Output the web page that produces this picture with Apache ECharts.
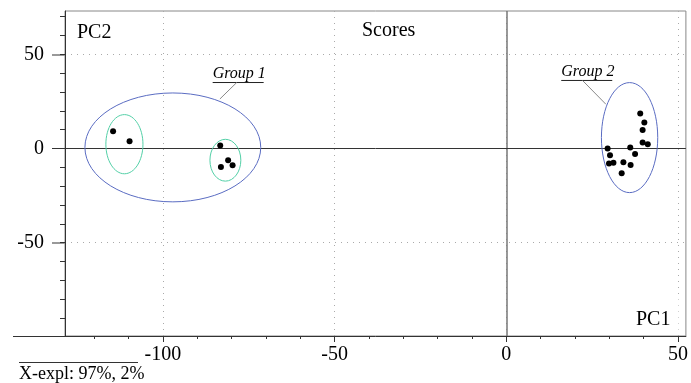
<!DOCTYPE html>
<html>
<head>
<meta charset="utf-8">
<script src="https://cdn.jsdelivr.net/npm/echarts@6/dist/echarts.min.js"></script>
<style>
  html, body { margin: 0; padding: 0; background: #fff; }
  #chart { width: 691px; height: 383px; }
</style>
</head>
<body>
<div id="chart"></div>
<script>
// PCA score plot, PC1 vs PC2
const group1X = [-114.5, -109.7, -83.3, -81.0, -79.7, -83.1];
const group1Y = [9.2, 3.9, 1.6, -6.2, -8.9, -9.8];
const group2X = [39.0, 40.2, 39.7, 39.7, 41.2, 29.5, 30.2, 29.9, 31.2, 36.1, 37.5, 34.1, 36.2, 33.6];
const group2Y = [18.6, 13.8, 9.9, 3.2, 2.3, 0.0, -3.6, -8.0, -7.6, 0.5, -2.9, -7.3, -8.7, -13.1];

// Group ellipses: centre and semi-axes in score units
const ellipseKind = ['outer', 'inner', 'inner', 'outer'];
const ellipseCx = [-97.1, -111.2, -81.8, 35.9];
const ellipseCy = [0.6, 2.3, -6.2, 5.8];
const ellipseRx = [25.6, 5.4, 4.5, 8.2];
const ellipseRy = [28.9, 15.7, 11.1, 29.2];

// Axis ticks
const xMajorTicks = [-100, -50, 0, 50];
const xMinorTicks = [-120, -110, -100, -90, -80, -70, -60, -50, -40, -30, -20, -10, 0, 10, 20, 30, 40, 50];
const yMajorTicks = [-50, 0, 50];
const yMinorTicks = [-90, -80, -70, -60, -50, -40, -30, -20, -10, 0, 10, 20, 30, 40, 50, 60, 70];

// Group captions
const groupNames = ['Group 1', 'Group 2'];

// caption placement (score units): underline start, leader start, leader end
const captionLayout = [
  { at: [-85.5, 35.3], from: [-78.5, 35.3], to: [-83.4, 26.3] },
  { at: [16.0, 36.4], from: [22.2, 36.4], to: [29.0, 23.5] }
];

const SERIF = '"Liberation Serif", "Times New Roman", serif';
const X_MIN = -128.5, X_MAX = 52.3, Y_MIN = -99.5, Y_MAX = 73;

const chart = echarts.init(document.getElementById('chart'), null, { renderer: 'canvas' });

const ellipseData = ellipseCx.map((cx, i) => [cx, ellipseCy[i], ellipseRx[i], ellipseRy[i], ellipseKind[i] === 'outer' ? 1 : 0]);
const captionData = groupNames.map((name, i) => [
  captionLayout[i].at[0], captionLayout[i].at[1],
  captionLayout[i].from[0], captionLayout[i].from[1],
  captionLayout[i].to[0], captionLayout[i].to[1], i
]);

// long left ticks: grey at ±50, dark at the origin
const yGreyTicks = yMajorTicks.filter(v => v !== 0);
const yOriginTick = yMajorTicks.filter(v => v === 0);

function hiddenY(extra) {
  return Object.assign({
    type: 'value', min: Y_MIN, max: Y_MAX, position: 'left',
    axisLine: { show: false, onZero: false },
    axisLabel: { show: false },
    splitLine: { show: false }
  }, extra);
}

const option = {
  animation: false,
  grid: {
    left: 65, right: 4, top: 11, bottom: 47,
    show: true, borderColor: '#888', borderWidth: 1, backgroundColor: 'transparent'
  },
  xAxis: [
    {
      type: 'value', min: X_MIN, max: X_MAX, position: 'bottom',
      axisLine: { show: true, onZero: false, lineStyle: { color: '#333', width: 1 } },
      axisTick: { show: true, customValues: xMajorTicks, length: 6, lineStyle: { color: '#333' } },
      axisLabel: { customValues: xMajorTicks, fontFamily: SERIF, fontSize: 20, color: '#000', margin: 9 },
      splitLine: { show: true, lineStyle: { color: '#aaa', type: [1, 5], width: 1 } }
    },
    {
      type: 'value', min: X_MIN, max: X_MAX, position: 'bottom',
      axisLine: { show: false, onZero: false },
      axisTick: { show: true, customValues: xMinorTicks, length: 3, lineStyle: { color: '#333' } },
      axisLabel: { show: false },
      splitLine: { show: false }
    }
  ],
  yAxis: [
    {
      type: 'value', min: Y_MIN, max: Y_MAX, position: 'left',
      axisLine: { show: true, onZero: false, lineStyle: { color: '#333', width: 1 } },
      axisTick: { show: true, customValues: yGreyTicks, length: 13, lineStyle: { color: '#999', width: 2 } },
      axisLabel: { customValues: yMajorTicks, fontFamily: SERIF, fontSize: 20, color: '#000', margin: 21 },
      splitLine: { show: true, lineStyle: { color: '#aaa', type: [1, 5], width: 1 } }
    },
    hiddenY({ axisTick: { show: true, customValues: yMinorTicks, length: 5, lineStyle: { color: '#333' } } }),
    hiddenY({ axisTick: { show: true, customValues: yOriginTick, length: 13, lineStyle: { color: '#333', width: 1 } } })
  ],
  series: [
    {
      name: 'ellipses',
      type: 'custom',
      coordinateSystem: 'cartesian2d',
      xAxisIndex: 0, yAxisIndex: 0,
      silent: true,
      clip: true,
      z: 3,
      data: ellipseData,
      renderItem: function (params, api) {
        const c = api.coord([api.value(0), api.value(1)]);
        const s = api.size([api.value(2), api.value(3)]);
        const outer = api.value(4) === 1;
        return {
          type: 'ellipse',
          shape: { cx: c[0], cy: c[1], rx: s[0], ry: s[1] },
          style: { fill: null, stroke: outer ? '#5a6cc2' : '#52cfa6', lineWidth: 1 }
        };
      }
    },
    {
      name: 'captions',
      type: 'custom',
      coordinateSystem: 'cartesian2d',
      xAxisIndex: 0, yAxisIndex: 0,
      silent: true,
      clip: false,
      z: 4,
      data: captionData,
      renderItem: function (params, api) {
        const at = api.coord([api.value(0), api.value(1)]);
        const from = api.coord([api.value(2), api.value(3)]);
        const to = api.coord([api.value(4), api.value(5)]);
        const name = groupNames[api.value(6)];
        return {
          type: 'group',
          children: [
            {
              type: 'text',
              x: at[0], y: at[1],
              style: {
                text: name, fill: '#000', align: 'left', verticalAlign: 'bottom',
                font: 'italic 16px ' + SERIF
              }
            },
            {
              type: 'line',
              shape: { x1: at[0], y1: at[1] + 0.5, x2: at[0] + 51, y2: at[1] + 0.5 },
              style: { stroke: '#222', lineWidth: 1 }
            },
            {
              type: 'line',
              shape: { x1: from[0], y1: from[1] + 0.5, x2: to[0], y2: to[1] },
              style: { stroke: '#888', lineWidth: 1 }
            }
          ]
        };
      }
    },
    {
      name: 'Group 1',
      type: 'scatter',
      xAxisIndex: 0, yAxisIndex: 0,
      symbol: 'circle', symbolSize: 6,
      itemStyle: { color: '#000', opacity: 1 },
      z: 5,
      data: group1X.map((x, i) => [x, group1Y[i]]),
      markLine: {
        silent: true,
        symbol: 'none',
        label: { show: false },
        z: 2,
        data: [
          { xAxis: 0, lineStyle: { color: '#777', width: 1.5, type: 'solid' } },
          { yAxis: 0, lineStyle: { color: '#333', width: 1, type: 'solid' } }
        ]
      }
    },
    {
      name: 'Group 2',
      type: 'scatter',
      xAxisIndex: 0, yAxisIndex: 0,
      symbol: 'circle', symbolSize: 6,
      itemStyle: { color: '#000', opacity: 1 },
      z: 5,
      data: group2X.map((x, i) => [x, group2Y[i]])
    }
  ],
  graphic: [
    { type: 'text', left: 77, top: 23, z: 10,
      style: { text: 'PC2', font: '20px ' + SERIF, fill: '#000' } },
    { type: 'text', left: 362, top: 21, z: 10,
      style: { text: 'Scores', font: '20px ' + SERIF, fill: '#000' } },
    { type: 'text', left: 632, top: 298, z: 10,
      style: { text: 'PC1', font: '20px ' + SERIF, fill: '#000', backgroundColor: '#fff', padding: [12, 8, 4, 4] } },
    { type: 'line', z: 10, shape: { x1: 13, y1: 336.5, x2: 65, y2: 336.5 }, style: { stroke: '#333', lineWidth: 1 } },
    { type: 'line', z: 10, shape: { x1: 19, y1: 362.5, x2: 138, y2: 362.5 }, style: { stroke: '#333', lineWidth: 1 } },
    { type: 'text', left: 19, top: 365, z: 10,
      style: { text: 'X-expl: 97%, 2%', font: '18px ' + SERIF, fill: '#000' } }
  ]
};

chart.setOption(option);
</script>
</body>
</html>
